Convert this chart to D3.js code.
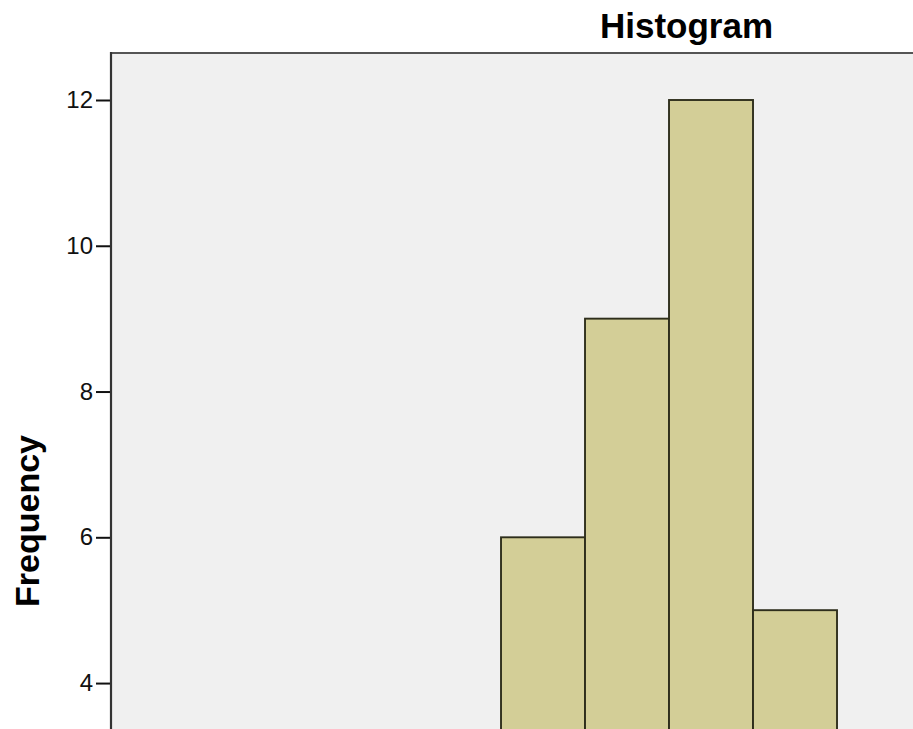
<!DOCTYPE html>
<html>
<head>
<meta charset="utf-8">
<script src="https://cdn.jsdelivr.net/npm/d3@7/dist/d3.min.js"></script>
<style>
  html, body { margin: 0; padding: 0; background: #ffffff; }
  svg { display: block; }
</style>
</head>
<body>
<svg id="chart" width="913" height="729"></svg>
<script>
// ---- data ----
const binStarts = [5, 6, 7, 8];
const binWidth = 1;
const frequencies = [6, 9, 12, 5];
const yTickValues = [4, 6, 8, 10, 12];
const titleText = "Histogram";
const yAxisLabel = "Frequency";

// ---- layout ----
const svg = d3.select("#chart");
const plotLeft = 111, plotTop = 53;
const plotRight = 1000, plotBottom = 1000;

const x = d3.scaleLinear().domain([0.357, 10]).range([plotLeft, plotLeft + 9.643 * 84]);
const y = d3.scaleLinear().domain([0, 12]).range([974.6, 100]);

// plot background
svg.append("rect")
  .attr("x", plotLeft).attr("y", plotTop)
  .attr("width", plotRight - plotLeft).attr("height", plotBottom - plotTop)
  .attr("fill", "#f0f0f0");

// bars
svg.append("g").selectAll("rect")
  .data(binStarts.map((s, i) => ({x0: s, x1: s + binWidth, n: frequencies[i]})))
  .join("rect")
  .attr("x", d => x(d.x0))
  .attr("y", d => y(d.n))
  .attr("width", d => x(d.x1) - x(d.x0))
  .attr("height", d => y(0) - y(d.n))
  .attr("fill", "#d3ce97")
  .attr("stroke", "#2e2e1c")
  .attr("stroke-width", 1.9);

// frame top
svg.append("line")
  .attr("x1", plotLeft).attr("x2", 913)
  .attr("y1", plotTop).attr("y2", plotTop)
  .attr("stroke", "#555555").attr("stroke-width", 2.2);

// y axis
const yAxis = d3.axisLeft(y)
  .tickValues(yTickValues)
  .tickSize(15)
  .tickPadding(3)
  .tickFormat(d3.format("d"));

const gy = svg.append("g")
  .attr("transform", `translate(${plotLeft},0)`)
  .call(yAxis);
gy.select(".domain").remove();
gy.selectAll(".tick line").attr("stroke", "#111").attr("stroke-width", 2);
gy.selectAll(".tick text")
  .attr("font-family", "Liberation Sans, Arial, sans-serif")
  .attr("font-size", 24)
  .attr("fill", "#111");

svg.append("line")
  .attr("x1", plotLeft).attr("x2", plotLeft)
  .attr("y1", plotTop - 1).attr("y2", 729)
  .attr("stroke", "#333333").attr("stroke-width", 2.2);

// title
svg.append("text")
  .attr("x", 686.5).attr("y", 38)
  .attr("text-anchor", "middle")
  .attr("font-family", "Liberation Sans, Arial, sans-serif")
  .attr("font-weight", "bold")
  .attr("font-size", 35)
  .attr("fill", "#000")
  .text(titleText);

// y label
svg.append("text")
  .attr("transform", "translate(39,521) rotate(-90)")
  .attr("text-anchor", "middle")
  .attr("font-family", "Liberation Sans, Arial, sans-serif")
  .attr("font-weight", "bold")
  .attr("font-size", 34)
  .attr("fill", "#000")
  .text(yAxisLabel);
</script>
</body>
</html>
